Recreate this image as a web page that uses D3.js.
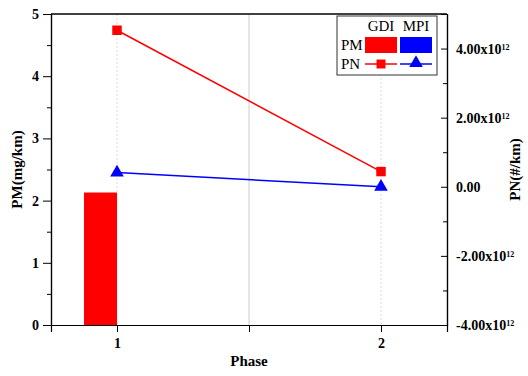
<!DOCTYPE html>
<html>
<head>
<meta charset="utf-8">
<script src="https://cdn.jsdelivr.net/npm/d3@7"></script>
<style>
body { margin: 0; background: #fff; }
svg text { font-family: "Liberation Serif", "Times New Roman", serif; }
</style>
</head>
<body>
<svg class="chart" width="528" height="376"></svg>
<script>
const phases = [1, 2]
const pmGDI = [2.13, null]
const pmMPI = [null, null]
const pnGDI = [4.53e12, 0.44e12]
const pnMPI = [0.41e12, 0.0]
const pmTicks = [0, 1, 2, 3, 4, 5]
const pnTicks = [-4e12, -2e12, 0, 2e12, 4e12]

const svg = d3.select("svg.chart")
const plotLeft = 51, plotRight = 447, plotTop = 14, plotBottom = 325
const serif = "'Liberation Serif', 'Times New Roman', serif"

const x = d3.scaleLinear().domain([0.75, 2.25]).range([plotLeft, plotRight])
const yPM = d3.scaleLinear().domain([0, 5]).range([plotBottom, plotTop])
const yPN = d3.scaleLinear().domain([-4e12, 5e12]).range([plotBottom, plotTop])
const barW = x(1) - x(0.875)

// grid lines
svg.selectAll("line.grid")
    .data(phases)
    .enter()
    .append("line")
    .attr("x1", d => x(d)).attr("x2", d => x(d))
    .attr("y1", plotTop).attr("y2", plotBottom)
    .attr("stroke", "#ddd")
    .attr("stroke-dasharray", "2,2")
svg.append("line")
    .attr("x1", x(1.5)).attr("x2", x(1.5))
    .attr("y1", plotTop).attr("y2", plotBottom)
    .attr("stroke", "#ccc")

// bars
svg.selectAll("rect.gdi")
    .data(pmGDI.map((v, i) => [phases[i], v]).filter(d => d[1] != null))
    .enter()
    .append("rect")
    .attr("x", d => x(d[0]) - barW)
    .attr("y", d => yPM(d[1]))
    .attr("width", barW)
    .attr("height", d => plotBottom - yPM(d[1]))
    .attr("fill", "#ff0000")
svg.selectAll("rect.mpi")
    .data(pmMPI.map((v, i) => [phases[i], v]).filter(d => d[1] != null))
    .enter()
    .append("rect")
    .attr("x", d => x(d[0]))
    .attr("y", d => yPM(d[1]))
    .attr("width", barW)
    .attr("height", d => plotBottom - yPM(d[1]))
    .attr("fill", "#0000ff")

// PN lines
const line = d3.line().x((d, i) => x(phases[i])).y(d => yPN(d))
svg.append("path").attr("d", line(pnGDI))
    .attr("fill", "none").attr("stroke", "#ff0000").attr("stroke-width", 1.5)
svg.append("path").attr("d", line(pnMPI))
    .attr("fill", "none").attr("stroke", "#0000ff").attr("stroke-width", 1.5)

svg.selectAll("path.sq")
    .data(pnGDI)
    .enter()
    .append("path")
    .attr("d", d3.symbol(d3.symbolSquare, 90)())
    .attr("transform", (d, i) => "translate(" + x(phases[i]) + "," + yPN(d) + ")")
    .attr("fill", "#ff0000")
svg.selectAll("path.tri")
    .data(pnMPI)
    .enter()
    .append("path")
    .attr("d", d3.symbol(d3.symbolTriangle, 80)())
    .attr("transform", (d, i) => "translate(" + x(phases[i]) + "," + yPN(d) + ")")
    .attr("fill", "#0000ff")

// axes
svg.append("g").attr("transform", "translate(" + plotLeft + ",0)")
    .call(d3.axisLeft(yPM).tickValues(pmTicks).tickSize(8).tickPadding(4).tickFormat(d3.format("d")))
svg.append("g").attr("transform", "translate(" + plotLeft + ",0)")
    .call(d3.axisLeft(yPM).tickValues(d3.range(0.5, 5, 1)).tickSize(4).tickFormat(""))

const axR = svg.append("g").attr("transform", "translate(" + plotRight + ",0)")
    .call(d3.axisRight(yPN).tickValues(pnTicks).tickSize(-6).tickFormat(""))
svg.append("g").attr("transform", "translate(" + plotRight + ",0)")
    .call(d3.axisRight(yPN).tickValues(d3.range(-3e12, 5e12, 2e12)).tickSize(-4).tickFormat(""))
axR.selectAll(".tick text").remove()
axR.selectAll(".tick").each(function (d) {
    const t = d3.select(this).append("text")
        .attr("x", 9).attr("dy", "0.32em")
        .attr("fill", "#000").attr("text-anchor", "start")
    if (d === 0) { t.text("0.00"); return }
    t.append("tspan").text((d / 1e12).toFixed(2) + "x10")
    t.append("tspan").attr("dy", "-0.5em").attr("font-size", "8px").text("12")
})

svg.append("g").attr("transform", "translate(0," + plotBottom + ")")
    .call(d3.axisBottom(x).tickValues([1, 1.5, 2]).tickSize(7).tickPadding(6)
        .tickFormat(d => d === 1.5 ? "" : d3.format("d")(d)))
svg.append("line")
    .attr("x1", plotLeft).attr("x2", plotRight).attr("y1", plotTop).attr("y2", plotTop)
    .attr("stroke", "#000").attr("stroke-width", 1.5)

svg.selectAll(".domain").attr("stroke-width", 1.2)
svg.selectAll(".tick text")
    .attr("font-family", serif)
    .attr("font-weight", "bold")
    .attr("font-size", 14)
    .style("font-family", serif)

// titles
svg.append("text").attr("transform", "translate(22," + (plotTop + plotBottom) / 2 + ") rotate(-90)")
    .attr("text-anchor", "middle").attr("font-weight", "bold").attr("font-size", 15)
    .text("PM(mg/km)")
svg.append("text").attr("transform", "translate(520," + (plotTop + plotBottom) / 2 + ") rotate(-90)")
    .attr("text-anchor", "middle").attr("font-weight", "bold").attr("font-size", 15)
    .text("PN(#/km)")
svg.append("text").attr("x", x(1.5)).attr("y", 366)
    .attr("text-anchor", "middle").attr("font-weight", "bold").attr("font-size", 15)
    .text("Phase")

// legend
const lg = svg.append("g").attr("transform", "translate(337,16)")
lg.append("rect").attr("width", 100).attr("height", 59)
    .attr("fill", "#fff").attr("stroke", "#333")
lg.append("text").attr("x", 44).attr("y", 15).attr("text-anchor", "middle").attr("font-size", 15).text("GDI")
lg.append("text").attr("x", 79).attr("y", 15).attr("text-anchor", "middle").attr("font-size", 15).text("MPI")
lg.append("text").attr("x", 4).attr("y", 34).attr("font-size", 15).text("PM")
lg.append("text").attr("x", 4).attr("y", 53).attr("font-size", 15).text("PN")
lg.append("rect").attr("x", 28).attr("y", 21).attr("width", 32).attr("height", 16).attr("fill", "#ff0000")
lg.append("rect").attr("x", 63).attr("y", 21).attr("width", 32).attr("height", 16).attr("fill", "#0000ff")
lg.append("line").attr("x1", 28).attr("x2", 60).attr("y1", 48).attr("y2", 48).attr("stroke", "#ff0000").attr("stroke-width", 1.5)
lg.append("line").attr("x1", 63).attr("x2", 95).attr("y1", 48).attr("y2", 48).attr("stroke", "#0000ff").attr("stroke-width", 1.5)
lg.append("path").attr("d", d3.symbol(d3.symbolSquare, 80)()).attr("transform", "translate(44,48)").attr("fill", "#ff0000")
lg.append("path").attr("d", d3.symbol(d3.symbolTriangle, 80)()).attr("transform", "translate(79,47)").attr("fill", "#0000ff")
</script>
</body>
</html>
